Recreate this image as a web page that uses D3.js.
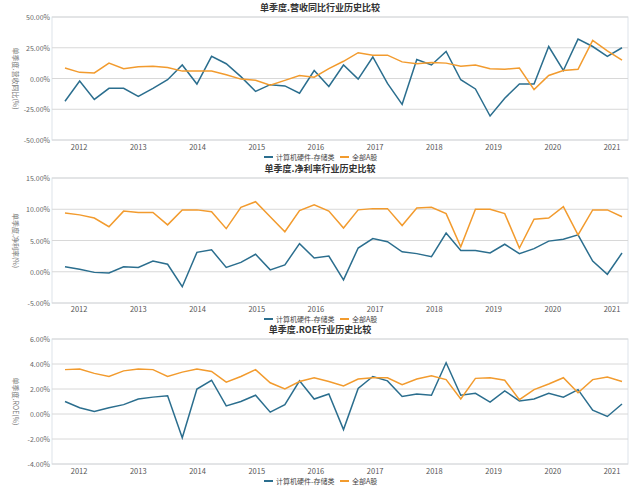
<!DOCTYPE html><html><head><meta charset="utf-8"><script src="https://cdn.jsdelivr.net/npm/d3@7"></script>
<style>body{margin:0;background:#fff}text{font-family:"Noto Sans CJK SC",sans-serif}</style></head><body><svg id="c" width="640" height="488"></svg>
<script>
const years=["2012","2013","2014","2015","2016","2017","2018","2019","2020","2021"];
const seriesNames=["计算机硬件-存储类","全部A股"];
const revBlue=[-18.5,-2,-17,-8,-8,-14.5,-8,-1,11,-4.5,18,12,1.5,-10.5,-5,-6,-12,6.5,-6.5,11,-0.5,17.5,-4,-21,15.5,11,22,-1,-8.5,-30.5,-16,-4.5,-4.5,26,6.5,32,26,18,25];
const revOrange=[8.5,5,4.5,12.5,8,9.5,10,9,6,6,6,3,-0.5,-1.5,-5.5,-1.5,2.5,1,8,14,21,19,19,13.5,12,13,12.5,10,11,8,7.5,8.5,-9,2.5,6.5,7.5,31,22.5,15];
const npmBlue=[0.8,0.4,-0.1,-0.2,0.8,0.7,1.7,1.2,-2.4,3.1,3.5,0.7,1.5,2.8,0.3,1.1,4.5,2.2,2.5,-1.3,3.8,5.3,4.8,3.2,2.9,2.4,6.2,3.4,3.4,3.0,4.4,2.9,3.7,4.9,5.2,5.9,1.7,-0.4,3.0];
const npmOrange=[9.4,9.1,8.6,7.2,9.7,9.5,9.5,7.5,9.9,9.9,9.6,6.9,10.3,11.2,8.8,6.4,9.8,10.7,9.7,7.0,9.9,10.1,10.1,7.4,10.2,10.3,9.3,4.0,10.0,10.0,9.3,3.8,8.4,8.6,10.4,5.9,9.9,9.9,8.8];
const roeBlue=[1.0,0.5,0.2,0.5,0.75,1.2,1.35,1.45,-1.9,2.0,2.7,0.65,1.0,1.5,0.15,0.75,2.65,1.2,1.6,-1.25,2.05,3.0,2.65,1.4,1.6,1.5,4.1,1.5,1.65,0.95,1.85,1.05,1.2,1.65,1.35,1.95,0.3,-0.2,0.8];
const roeOrange=[3.55,3.6,3.25,3.0,3.45,3.6,3.55,3.0,3.35,3.6,3.4,2.55,3.0,3.55,2.5,2.0,2.6,2.9,2.6,2.25,2.8,2.9,2.9,2.35,2.8,3.05,2.75,1.2,2.85,2.9,2.7,1.15,1.95,2.4,2.9,1.7,2.75,2.95,2.6];
const colors=["#2b6e8e","#f29b2e"];
const svg=d3.select("#c");
const charts=[
 {title:"单季度.营收同比行业历史比较",ylab:"单季度.营收同比(%)",top:17,bot:140,dom:[-50,50],ticks:[-50,-25,0,25,50],data:[revBlue,revOrange],ty:7,xl:150,lg:157},
 {title:"单季度.净利率行业历史比较",ylab:"单季度.净利率(%)",top:178,bot:303,dom:[-5,15],ticks:[-5,0,5,10,15],data:[npmBlue,npmOrange],ty:168,xl:312,lg:319},
 {title:"单季度.ROE行业历史比较",ylab:"单季度.ROE(%)",top:339,bot:464,dom:[-4,6],ticks:[-4,-2,0,2,4,6],data:[roeBlue,roeOrange],ty:329,xl:474,lg:481}
];
const x=d3.scaleLinear().domain([0,38]).range([65,622]);
charts.forEach(c=>{
 const y=d3.scaleLinear().domain(c.dom).range([c.bot,c.top]);
 const g=svg.append("g");
 g.append("text").attr("x",320).attr("y",c.ty+4).attr("text-anchor","middle").attr("font-size",9).attr("font-weight","bold").attr("fill","#333").text(c.title);
 g.append("rect").attr("x",52).attr("y",c.top).attr("width",576).attr("height",c.bot-c.top).attr("fill","none").attr("stroke","#dde3ea");
 c.ticks.forEach(t=>{
  g.append("line").attr("x1",52).attr("x2",628).attr("y1",y(t)).attr("y2",y(t)).attr("stroke","#d8d8d8");
  g.append("text").attr("x",50).attr("y",y(t)+3).attr("text-anchor","end").attr("font-size",7).attr("fill","#666").text(t.toFixed(2)+"%");
 });
 years.forEach((yr,k)=>g.append("text").attr("x",x(0.96+k*4.04)).attr("y",c.xl).attr("text-anchor","middle").attr("font-size",7.5).attr("fill","#555").text(yr));
 g.append("text").attr("transform",`translate(13,${(c.top+c.bot)/2}) rotate(90)`).attr("text-anchor","middle").attr("font-size",7).attr("fill","#777").text(c.ylab);
 c.data.forEach((d,i)=>g.append("path").attr("d",d3.line().x((v,j)=>x(j)).y(v=>y(v))(d)).attr("fill","none").attr("stroke",colors[i]).attr("stroke-width",1.5));
 const lx=[264,340];
 seriesNames.forEach((n,i)=>{
  g.append("line").attr("x1",lx[i]).attr("x2",lx[i]+9).attr("y1",c.lg).attr("y2",c.lg).attr("stroke",colors[i]).attr("stroke-width",2);
  g.append("text").attr("x",lx[i]+12).attr("y",c.lg+3).attr("font-size",7).attr("fill","#444").text(n);
 });
});
</script></body></html>
